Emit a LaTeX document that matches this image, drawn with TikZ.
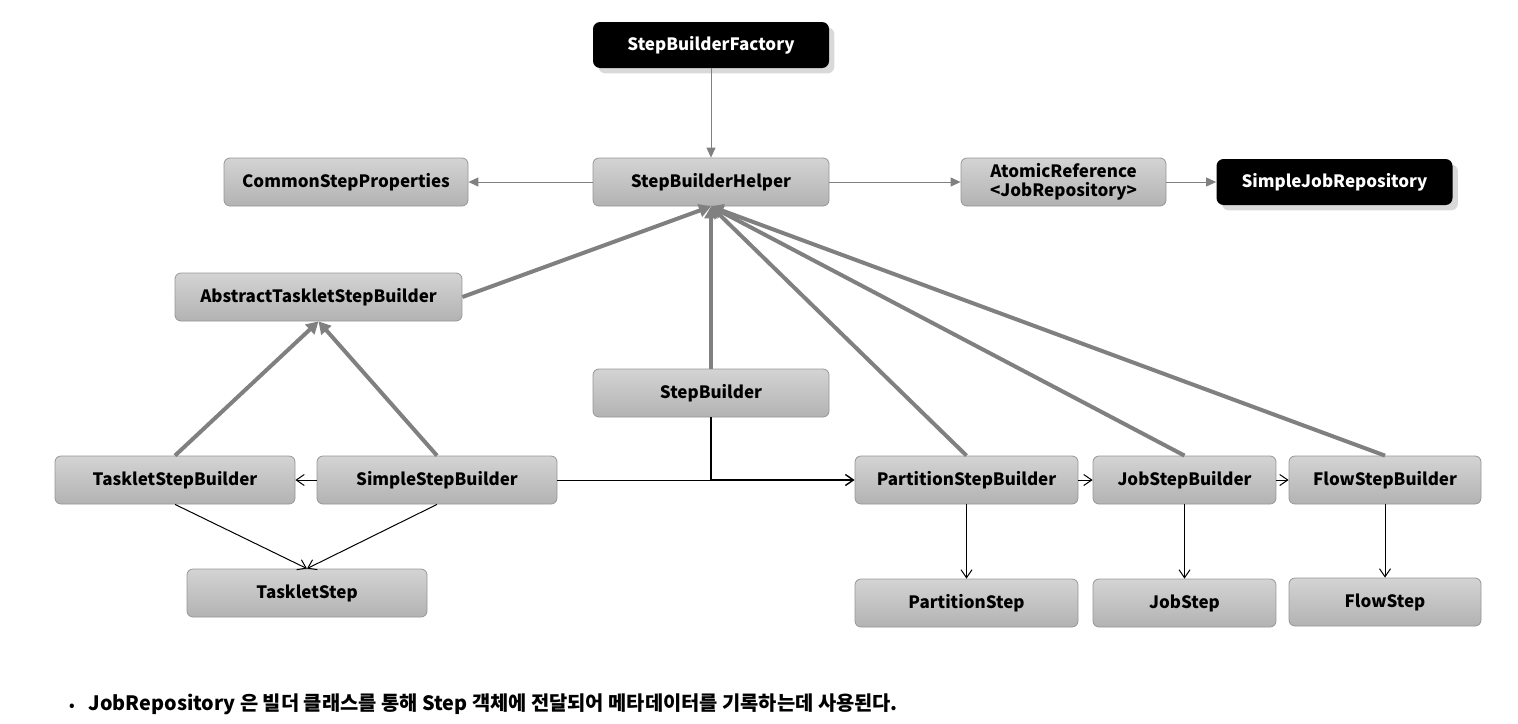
\documentclass[tikz,border=0pt]{standalone}
\usepackage{fontspec}
\setmainfont{Noto Sans CJK KR}
\usepackage{tikz}
\usetikzlibrary{positioning,calc,shadows,arrows.meta}
\definecolor{linegray}{RGB}{128,128,128}
\definecolor{boxedge}{RGB}{150,150,150}
\tikzset{
  every node/.style={font=\fontsize{8.5}{10}\selectfont\bfseries,align=center},
  cls/.style={rounded corners=3pt,draw=boxedge,line width=0.4pt,
    top color=black!17,bottom color=black!30,minimum height=24pt,
    inner sep=1pt,minimum width=#1},
  cls/.default=118pt,
  ext/.style={rounded corners=3.5pt,fill=black,text=white,drop shadow={opacity=0.3},
    minimum height=23pt,minimum width=#1},
  ext/.default=118pt,
  helps/.style={draw=linegray,line width=0.5pt,-{Triangle[length=5pt,width=4.5pt]}},
  inherits/.style={draw=linegray,line width=2pt,-{Triangle[length=6pt,width=6.5pt]}},
  uses/.style={draw=black,line width=0.5pt,-{Straight Barb[length=4pt,width=5.5pt]}},
}
\begin{document}
\begin{tikzpicture}[x=0.5pt,y=-0.5pt]
  \useasboundingbox (0,0) rectangle (1518,723);
  % top row
  \node [ext] (fac) at (711,45) {StepBuilderFactory};
  \node [cls] (helper) at (711,182) {StepBuilderHelper};
  \node [cls=122pt] (common) at (346,182) {CommonStepProperties};
  \node [cls=102.5pt,font=\fontsize{8.5}{9.5}\selectfont\bfseries] (atomic) at (1063.5,182) {AtomicReference\\{<}JobRepository{>}};
  \node [ext] (repo) at (1334.5,182) {SimpleJobRepository};
  % builders
  \node [cls=143.5pt] (abst) at (318.5,297) {AbstractTaskletStepBuilder};
  \node [cls] (sb) at (711,393) {StepBuilder};
  \node [cls=120pt] (tsb) at (175,480) {TaskletStepBuilder};
  \node [cls=120pt] (ssb) at (437,480) {SimpleStepBuilder};
  \node [cls=111.5pt] (psb) at (966.5,480) {PartitionStepBuilder};
  \node [cls=91.5pt] (jsb) at (1184.5,480) {JobStepBuilder};
  \node [cls=96pt] (fsb) at (1385,480) {FlowStepBuilder};
  % steps
  \node [cls=120pt] (tstep) at (307,593) {TaskletStep};
  \node [cls=111.5pt] (pstep) at (966.5,603) {PartitionStep};
  \node [cls=91.5pt] (jstep) at (1184.5,603) {JobStep};
  \node [cls=96pt] (fstep) at (1385,602) {FlowStep};
  \node [anchor=west,font=\fontsize{9.9}{11}\selectfont\bfseries] (note) at (62,704)
    {{\fontsize{7}{8}\selectfont •}\hspace{7pt}JobRepository 은 빌더 클래스를 통해 Step 객체에 전달되어 메타데이터를 기록하는데 사용된다.};

  \draw [helps] (fac) -- (helper);
  \draw [helps] (helper) -- (common);
  \draw [helps] (helper) -- (atomic);
  \draw [helps] (atomic) -- (repo);

  \draw [inherits] (abst.east) -- (helper.south);
  \foreach \b in {sb,psb,jsb,fsb}
    \draw [inherits] (\b.north) -- (helper.south);
  \draw [inherits] (tsb.north) -- (abst.south);
  \draw [inherits] (ssb.north) -- (abst.south);

  \coordinate (join) at (sb.south |- ssb.east);
  \draw [uses] (ssb) -- (tsb);
  \draw [uses] (tsb.south) -- (tstep.north);
  \draw [uses] (ssb.south) -- (tstep.north);
  \draw [uses,line width=0.7pt] (sb.south) |- (psb.west);
  \draw [line width=0.5pt] (ssb.east) -- (join);
  \draw [uses] (psb) -- (jsb);
  \draw [uses] (jsb) -- (fsb);
  \foreach \a/\b in {psb/pstep,jsb/jstep,fsb/fstep}
    \draw [uses] (\a) -- (\b);
\end{tikzpicture}
\end{document}
